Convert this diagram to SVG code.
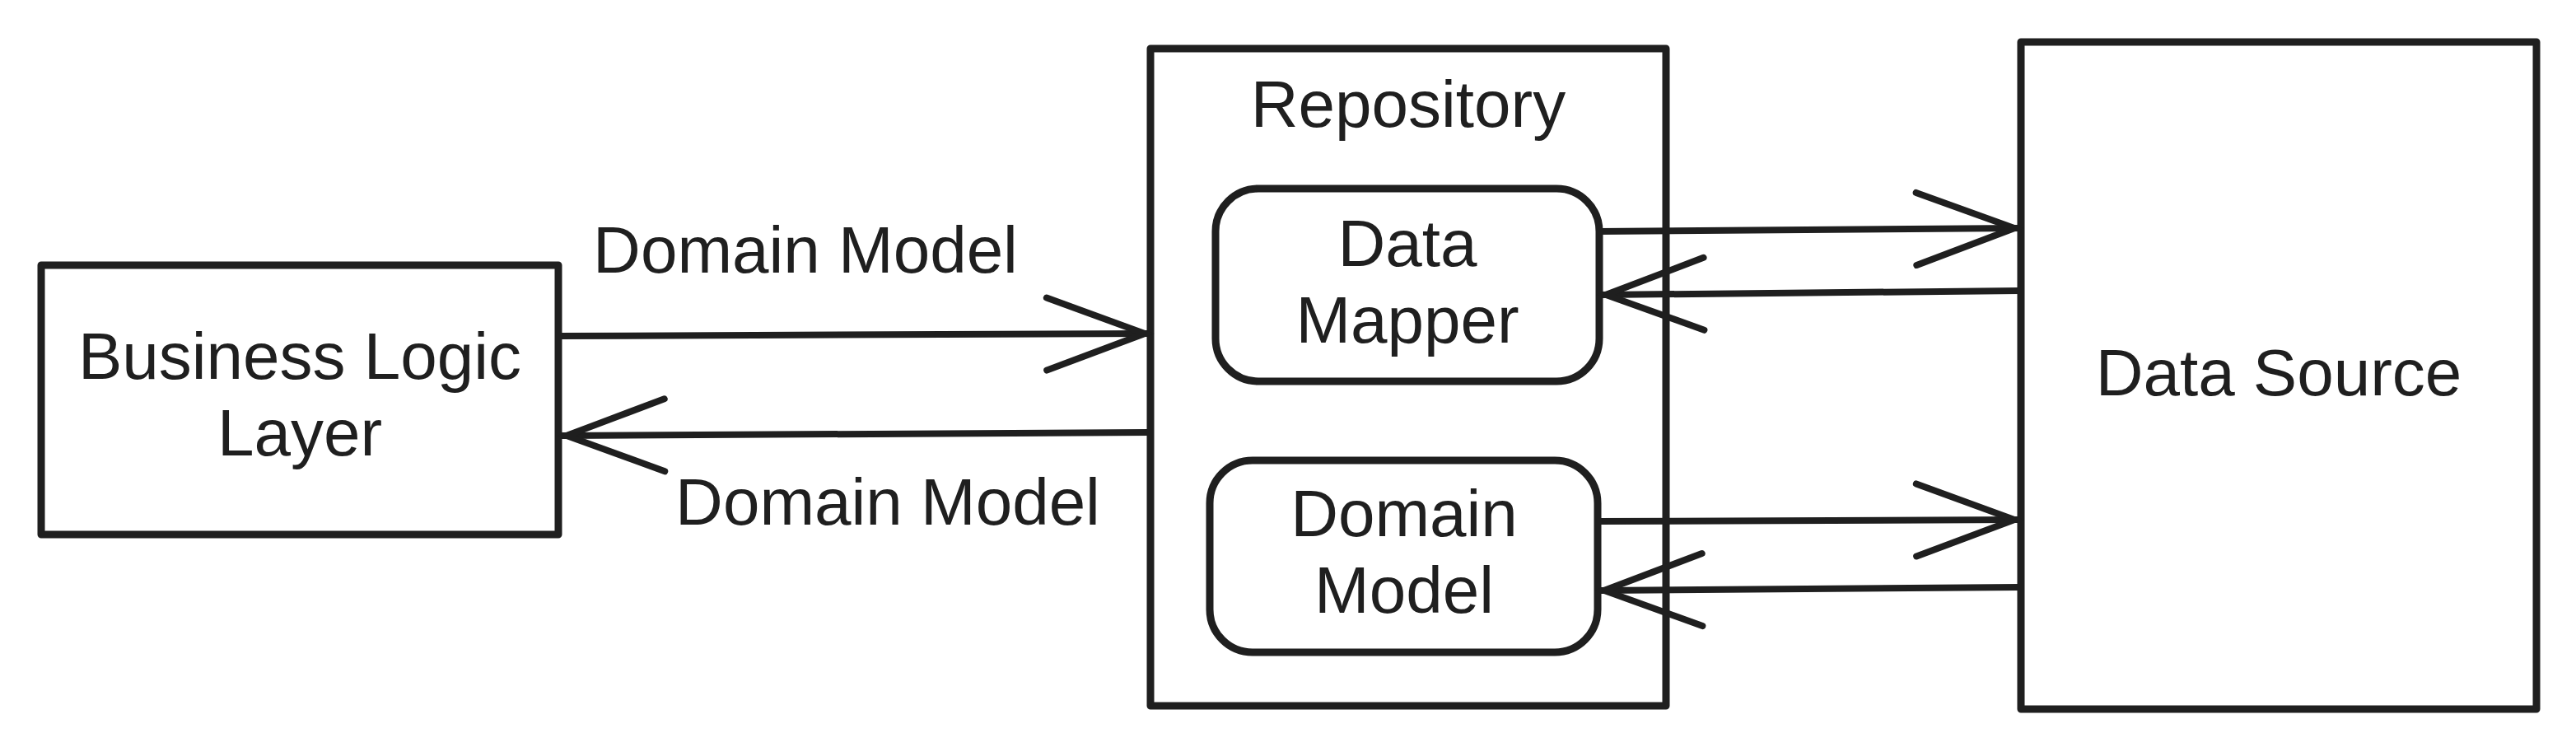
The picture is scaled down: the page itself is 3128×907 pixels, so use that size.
<svg xmlns="http://www.w3.org/2000/svg" width="3128" height="907" viewBox="0 0 3128 907">
<style>
.box{fill:#fff;stroke:#1f1f1f;stroke-width:9;stroke-linejoin:round}
.con{fill:none;stroke:#1f1f1f;stroke-width:8}
.head{fill:none;stroke:#1f1f1f;stroke-width:8;stroke-linecap:round;stroke-linejoin:miter}
text{font-family:"Liberation Sans",Arial,sans-serif;font-size:80px;fill:#1f1f1f;text-anchor:middle}
</style>
<defs>
<marker id="arr" markerUnits="userSpaceOnUse" viewBox="-135 -55 145 110" markerWidth="145" markerHeight="110" refX="0" refY="0" orient="auto" overflow="visible">
<path class="head" d="M-125,-44 L-6,0 L-125,44"/>
</marker>
</defs>
<rect width="3128" height="907" fill="#fff"/>
<g id="bll">
<rect class="box" x="50" y="322" width="628" height="327"/>
<text x="364" y="460">Business Logic</text>
<text x="364" y="553">Layer</text>
</g>
<g id="repository">
<rect class="box" x="1397" y="59" width="626" height="798"/>
<text x="1710" y="154">Repository</text>
</g>
<g id="data-mapper">
<rect class="box" x="1476" y="229" width="466" height="234" rx="52"/>
<text x="1709" y="323">Data</text>
<text x="1709" y="416">Mapper</text>
</g>
<g id="domain-model">
<rect class="box" x="1469" y="559" width="471" height="233" rx="52"/>
<text x="1705" y="651">Domain</text>
<text x="1705" y="744">Model</text>
</g>
<g id="data-source">
<rect class="box" x="2454" y="51" width="626" height="810"/>
<text x="2767" y="480">Data Source</text>
</g>
<g id="connectors">
<line class="con" x1="678" y1="408" x2="1396" y2="405" marker-end="url(#arr)"/>
<line class="con" x1="1396" y1="525" x2="682" y2="529" marker-end="url(#arr)"/>
<line class="con" x1="1942" y1="281" x2="2452" y2="277" marker-end="url(#arr)"/>
<line class="con" x1="2452" y1="353" x2="1944" y2="358" marker-end="url(#arr)"/>
<line class="con" x1="1940" y1="633" x2="2452" y2="631" marker-end="url(#arr)"/>
<line class="con" x1="2452" y1="713" x2="1942" y2="717" marker-end="url(#arr)"/>
<text x="978" y="331">Domain Model</text>
<text x="1078" y="637">Domain Model</text>
</g>
</svg>
